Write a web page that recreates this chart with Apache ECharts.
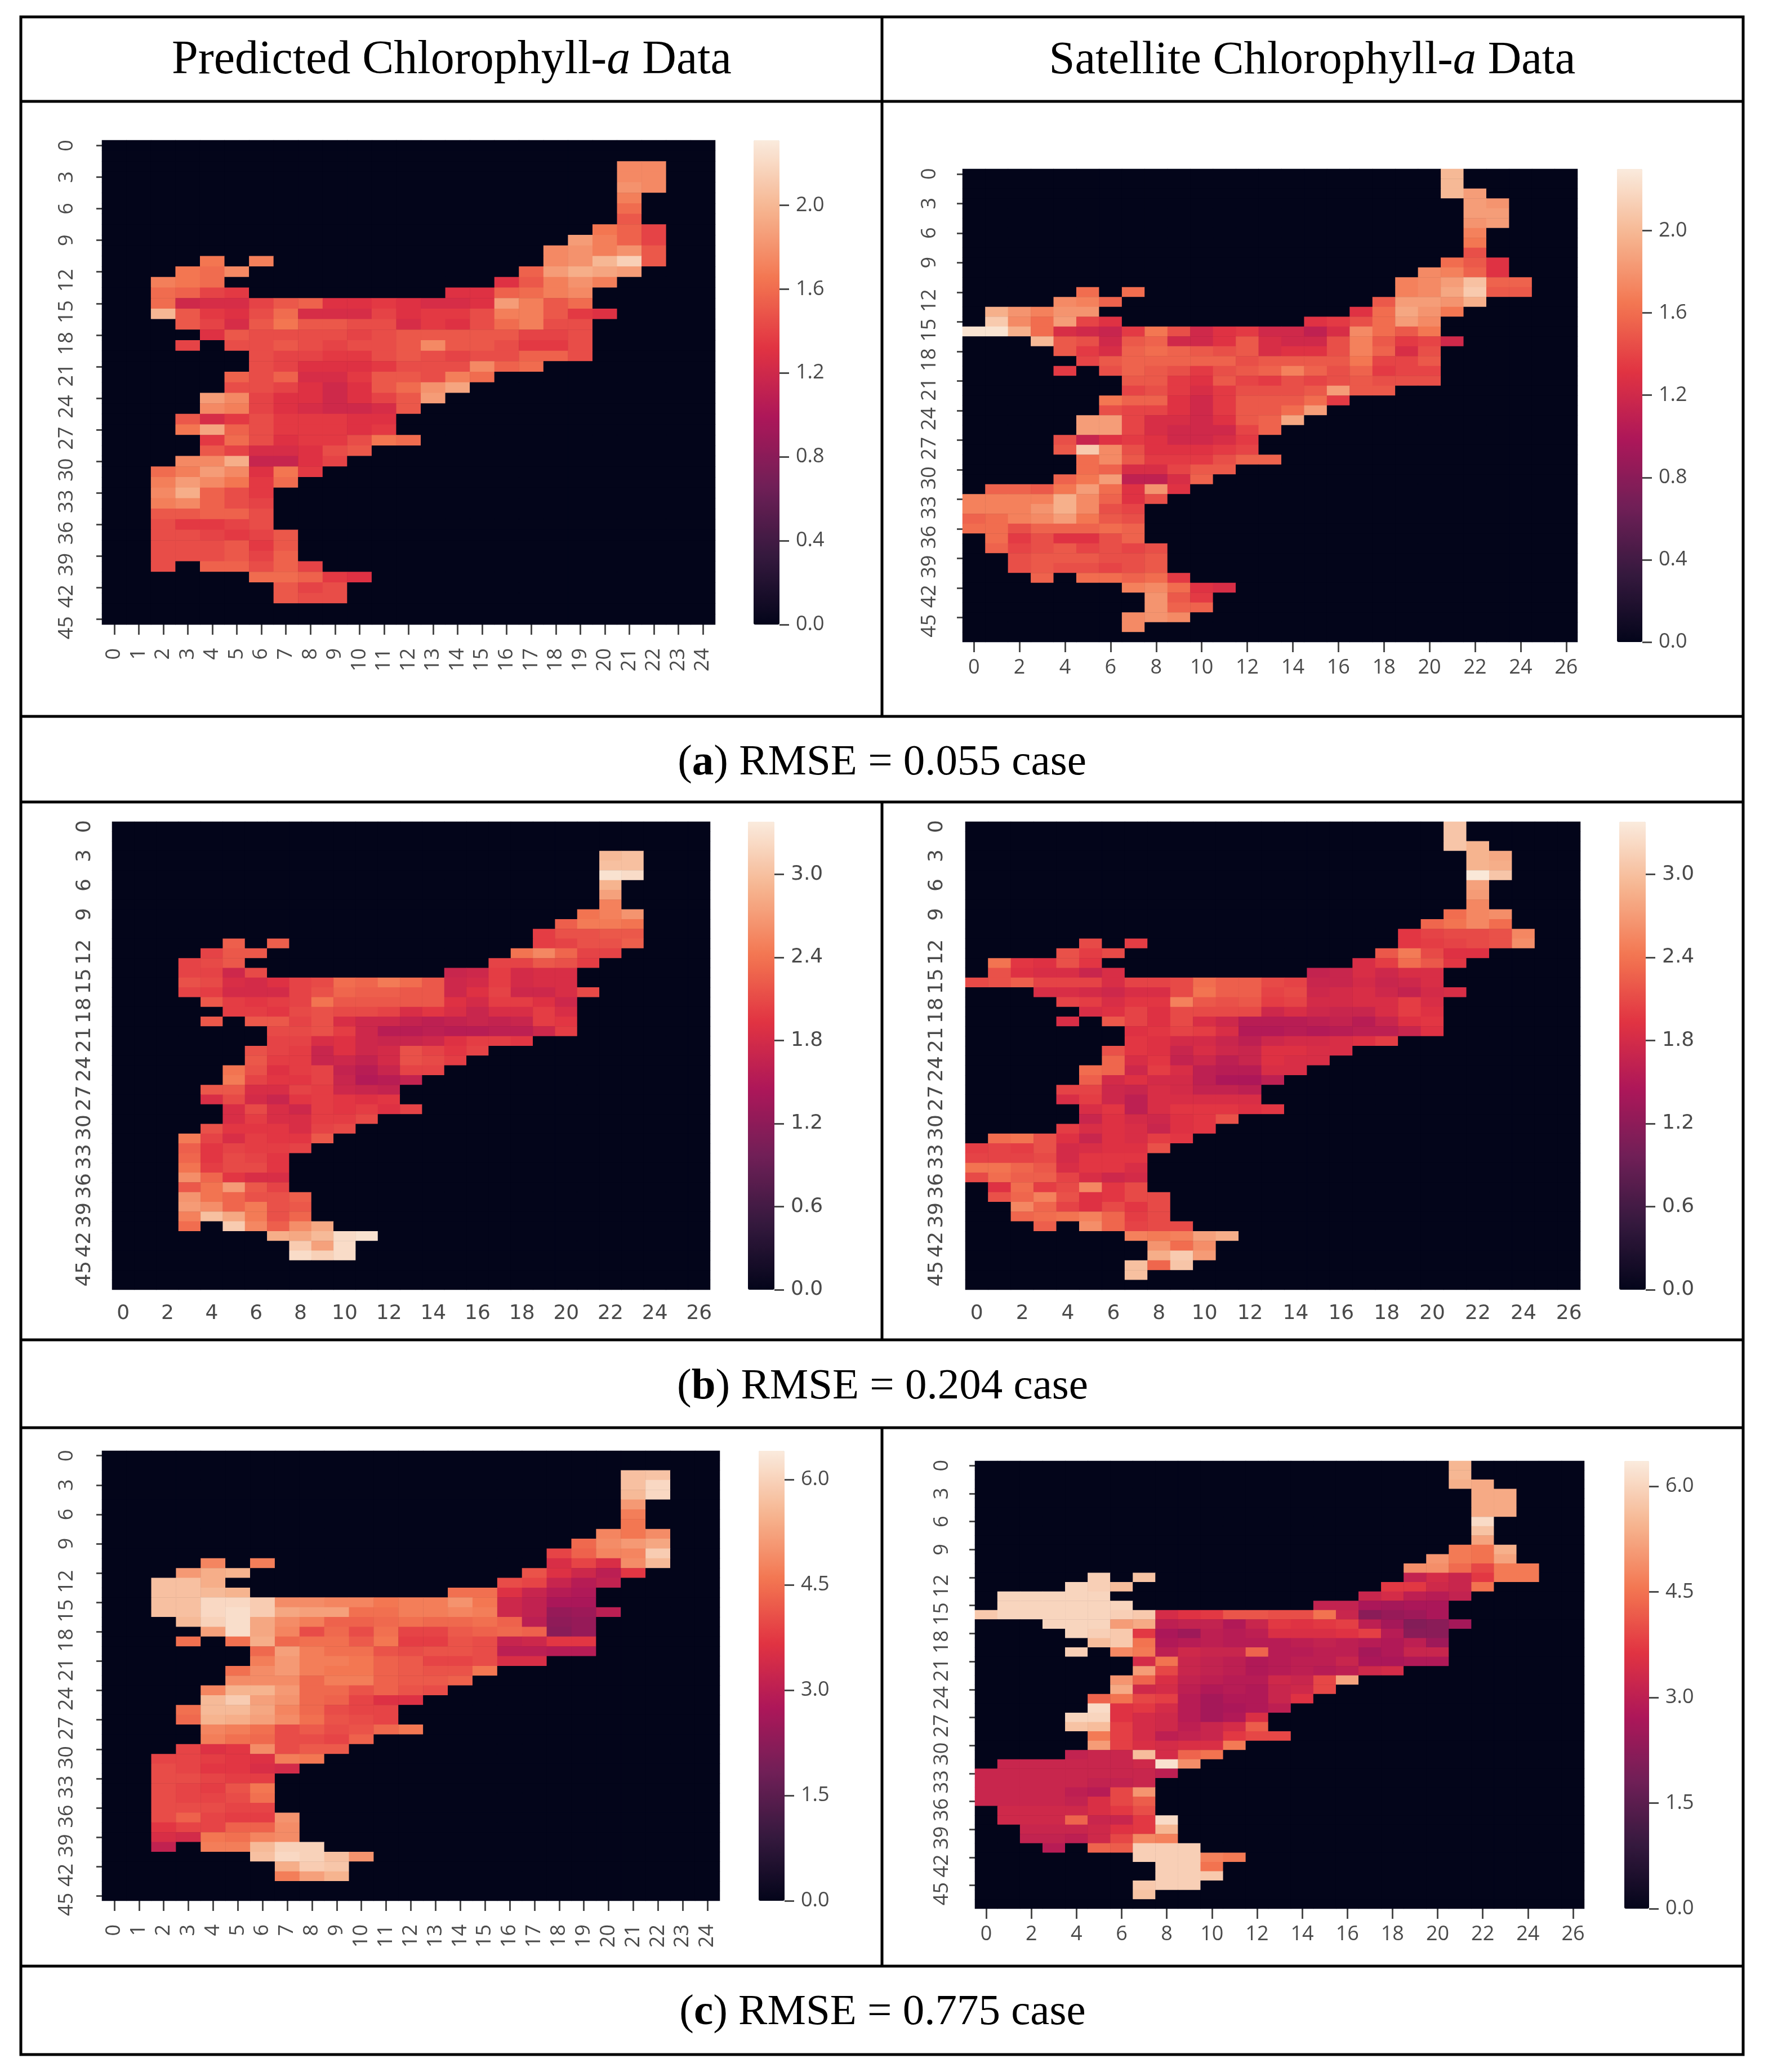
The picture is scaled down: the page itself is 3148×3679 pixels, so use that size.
<!DOCTYPE html>
<html>
<head>
<meta charset="utf-8">
<title>Chlorophyll-a heatmaps</title>
<script src="https://cdn.jsdelivr.net/npm/echarts@6/dist/echarts.min.js"></script>
<style>
  html, body { margin: 0; padding: 0; background: #fff; }
  #chart { width: 3148px; height: 3679px; }
</style>
</head>
<body>
<div id="chart"></div>
<script>
// axis categories
var cols25 = [0,1,2,3,4,5,6,7,8,9,10,11,12,13,14,15,16,17,18,19,20,21,22,23,24];
var cols27 = [0,1,2,3,4,5,6,7,8,9,10,11,12,13,14,15,16,17,18,19,20,21,22,23,24,25,26];
var rows46 = [0,1,2,3,4,5,6,7,8,9,10,11,12,13,14,15,16,17,18,19,20,21,22,23,24,25,26,27,28,29,30,31,32,33,34,35,36,37,38,39,40,41,42,43,44,45];
var rows48 = rows46.concat([46,47]);

// colorbar ticks
var ticksA = [0,0.4,0.8,1.2,1.6,2.0];
var ticksB = [0,0.6,1.2,1.8,2.4,3.0];
var ticksC = [0,1.5,3.0,4.5,6.0];

// rocket palette
var rocket = ['#03051a','#35193e','#701f57','#ad1759','#e13342','#f37651','#f6b48f','#faebdd'];

// each entry: row, first column, then the values going right
var predA = [
[2,21,1.75,1.75],[3,21,1.75,1.75],[4,21,1.8,1.75],[5,21,1.7],[6,21,1.6],[7,21,1.5],
[8,20,1.65,1.55,1.4],[9,19,1.85,1.7,1.55,1.4],[10,18,1.75,1.8,1.7,1.8,1.5],
[11,4,1.65],[11,6,1.7],[11,18,1.75,1.8,2.0,2.15,1.5],
[12,3,1.65,1.6,1.75],[12,17,1.55,1.85,1.95,1.9,1.85],
[13,2,1.7,1.65,1.6],[13,16,1.3,1.5,1.7,1.8,1.7],
[14,2,1.6,1.55,1.4,1.35],[14,14,1.3,1.3,1.55,1.6,1.7,1.75],
[15,2,1.6,1.2,1.25,1.25,1.4,1.5,1.55,1.3,1.3,1.35,1.3,1.25,1.25,1.3,1.85,1.7,1.5,1.6],
[16,2,2.0,1.5,1.35,1.3,1.45,1.6,1.25,1.25,1.25,1.4,1.3,1.35,1.35,1.45,1.7,1.7,1.5,1.35,1.3],
[17,3,1.5,1.4,1.25,1.5,1.65,1.5,1.5,1.45,1.45,1.25,1.35,1.3,1.45,1.6,1.7,1.45,1.45],
[18,4,1.3,1.5,1.45,1.45,1.45,1.45,1.4,1.45,1.5,1.5,1.5,1.5,1.5,1.4,1.4,1.45],
[19,3,1.4],[19,5,1.45,1.45,1.5,1.45,1.4,1.45,1.45,1.5,1.75,1.5,1.5,1.45,1.35,1.35,1.45],
[20,6,1.45,1.4,1.4,1.35,1.35,1.45,1.5,1.45,1.4,1.45,1.45,1.55,1.55,1.45],
[21,6,1.45,1.4,1.3,1.3,1.3,1.35,1.45,1.45,1.45,1.75,1.55,1.6],
[22,5,1.55,1.45,1.55,1.25,1.25,1.35,1.5,1.5,1.45,1.7,1.6],
[23,5,1.45,1.45,1.4,1.3,1.2,1.3,1.5,1.6,1.8,1.9],
[24,4,1.85,1.75,1.4,1.3,1.3,1.2,1.3,1.4,1.5,1.85],
[25,4,1.75,1.7,1.4,1.3,1.25,1.2,1.2,1.25,1.5],
[26,3,1.5,1.25,1.35,1.45,1.35,1.35,1.35,1.3,1.3],
[27,3,1.65,1.9,1.55,1.45,1.35,1.35,1.35,1.3,1.35],
[28,4,1.35,1.6,1.45,1.3,1.35,1.35,1.45,1.65,1.6],
[29,4,1.5,1.4,1.25,1.25,1.3,1.45,1.5],
[30,3,1.75,1.75,1.95,1.15,1.15,1.3,1.4],
[31,2,1.6,1.7,1.85,1.75,1.3,1.65,1.35],
[32,2,1.7,1.85,1.75,1.65,1.35,1.6],
[33,2,1.75,1.95,1.55,1.45,1.35],[34,2,1.7,1.75,1.55,1.45,1.4],[35,2,1.5,1.5,1.55,1.55,1.45],[36,2,1.45,1.35,1.35,1.4,1.45],
[37,2,1.45,1.45,1.4,1.35,1.4,1.5],[38,2,1.45,1.45,1.45,1.5,1.35,1.5],[39,2,1.45,1.45,1.45,1.5,1.4,1.55],
[40,2,1.45],[40,4,1.55,1.55,1.45,1.55,1.4],
[41,6,1.6,1.6,1.55,1.35,1.3],[42,7,1.5,1.4,1.45],[43,7,1.5,1.45,1.45]
];

var satA = [
[0,21,2.0],[1,21,2.0],[2,21,2.0,1.85],[3,22,1.85,1.8],[4,22,1.85,1.85],[5,22,1.8,1.85],[6,22,1.7],[7,22,1.65],[8,22,1.45],
[9,21,1.6,1.5,1.3],[10,20,1.75,1.7,1.55,1.3],[11,19,1.7,1.75,1.85,2.05,1.55,1.55],
[12,5,1.6],[12,7,1.6],[12,19,1.7,1.75,1.9,2.1,1.5,1.5],
[13,4,1.75,1.7,1.55],[13,18,1.5,1.85,1.85,1.8,1.95],
[14,1,1.95,1.8,1.7,1.8,1.8],[14,17,1.3,1.6,1.9,1.8,1.65],
[15,1,2.1,1.75,1.6,1.85,1.4,1.3],[15,15,1.3,1.35,1.45,1.6,1.85,1.75],
[16,0,2.25,2.25,1.95,1.6,1.25,1.2,1.15,1.35,1.65,1.45,1.2,1.3,1.35,1.2,1.2,1.1,1.25,1.75,1.6,1.5,1.65],
[17,3,2.0,1.5,1.45,1.2,1.5,1.55,1.2,1.2,1.3,1.5,1.25,1.2,1.2,1.45,1.7,1.5,1.35,1.4,1.2],
[18,4,1.5,1.35,1.25,1.55,1.6,1.55,1.5,1.45,1.5,1.25,1.3,1.3,1.45,1.7,1.55,1.25,1.45],
[19,5,1.4,1.5,1.55,1.55,1.55,1.55,1.55,1.45,1.5,1.5,1.5,1.5,1.65,1.4,1.4,1.5],
[20,4,1.35],[20,6,1.45,1.55,1.5,1.45,1.35,1.45,1.5,1.55,1.7,1.55,1.45,1.55,1.35,1.4,1.4],
[21,7,1.5,1.5,1.35,1.3,1.5,1.4,1.35,1.45,1.4,1.45,1.5,1.45,1.45,1.45],
[22,7,1.4,1.45,1.35,1.25,1.35,1.45,1.45,1.45,1.5,1.85,1.5,1.5],
[23,6,1.65,1.55,1.55,1.3,1.2,1.35,1.5,1.5,1.5,1.6,1.35],
[24,6,1.45,1.4,1.4,1.3,1.2,1.35,1.5,1.5,1.6,1.85],
[25,5,1.85,1.85,1.4,1.25,1.25,1.2,1.3,1.5,1.55,1.9],
[26,5,1.85,1.85,1.4,1.25,1.2,1.2,1.2,1.4,1.55],
[27,4,1.45,1.15,1.3,1.35,1.3,1.2,1.2,1.25,1.35],
[28,4,1.5,2.1,1.75,1.45,1.3,1.3,1.3,1.35,1.4],
[29,5,1.6,1.75,1.5,1.35,1.35,1.35,1.45,1.55,1.55],
[30,5,1.6,1.55,1.25,1.25,1.4,1.5,1.5],
[31,4,1.55,1.65,1.85,1.1,1.1,1.25,1.55],
[32,1,1.55,1.55,1.5,1.65,1.85,1.6,1.3,1.8,1.3],
[33,0,1.7,1.7,1.7,1.7,1.95,1.75,1.55,1.3,1.45],
[34,0,1.7,1.7,1.7,1.8,1.95,1.75,1.45,1.4],
[35,0,1.55,1.6,1.7,1.75,1.85,1.65,1.5,1.45],
[36,0,1.6,1.6,1.45,1.55,1.55,1.55,1.6,1.55],
[37,1,1.6,1.35,1.45,1.3,1.3,1.45,1.55],
[38,1,1.55,1.4,1.45,1.5,1.4,1.45,1.4,1.45],
[39,2,1.45,1.5,1.5,1.5,1.45,1.45,1.5],
[40,2,1.45,1.5,1.45,1.45,1.4,1.45,1.5],
[41,3,1.55],[41,5,1.6,1.6,1.55,1.6,1.35],
[42,7,1.7,1.75,1.6,1.3,1.25],[43,8,1.8,1.5,1.35],[44,8,1.8,1.55,1.55],[45,7,1.75,1.8,1.75],[46,7,1.75]
];

var predB = [
[3,22,2.95,3.0],[4,22,3.0,3.0],[5,22,3.3,3.25],[6,22,2.9],[7,22,2.75],[8,22,2.5],
[9,21,2.4,2.5,2.65],[10,20,2.25,2.45,2.45,2.4],[11,19,2.0,2.15,2.15,2.2,2.2],
[12,5,2.25],[12,7,2.25],[12,19,2.0,2.05,2.15,2.15,2.25],
[13,4,2.05,2.2,2.2],[13,18,2.4,2.55,2.3,2.05,2.05],
[14,3,2.05,2.1,2.2],[14,17,2.05,2.05,2.2,2.15,2.0],
[15,3,2.05,2.05,1.75,2.1],[15,15,1.7,1.75,2.0,1.8,1.85,1.85],
[16,3,2.15,2.1,1.85,1.8,1.9,2.05,2.1,2.35,2.3,2.45,2.35,2.2,1.75,1.8,2.0,1.8,1.85,1.85],
[17,3,2.05,2.0,1.8,1.8,1.8,2.05,2.15,2.3,2.25,2.25,2.2,2.2,1.75,1.9,2.05,1.75,1.75,1.85,2.1],
[18,4,2.2,2.0,1.95,2.0,2.05,2.4,2.2,2.2,2.2,2.2,2.2,1.9,1.8,2.0,2.0,1.9,1.75],
[19,5,2.0,2.0,1.95,2.1,2.15,2.1,2.1,2.05,1.85,1.95,1.85,1.7,1.85,1.85,2.0,1.85],
[20,4,2.2],[20,6,2.2,2.2,2.05,2.15,1.85,1.75,1.75,1.65,1.6,1.65,1.7,1.65,1.7,2.0,1.95],
[21,7,2.1,2.1,2.15,2.0,1.75,1.55,1.55,1.6,1.55,1.55,1.6,1.6,1.75,2.0],
[22,7,2.05,2.05,1.85,1.9,1.75,1.7,1.7,1.75,1.9,2.0,2.0,1.95],
[23,6,2.15,2.05,2.0,1.7,1.9,1.75,1.8,2.15,2.05,1.95,2.05],
[24,6,2.2,2.0,2.0,1.7,1.75,1.65,1.8,2.15,2.1,2.0],
[25,5,2.4,2.15,1.9,2.0,2.05,1.65,1.55,1.7,2.05,2.05],
[26,5,2.45,2.05,1.95,1.95,2.05,1.7,1.5,1.55,1.65],
[27,4,2.2,2.2,1.85,1.85,2.05,2.0,1.75,1.7,1.65],
[28,4,1.85,2.1,1.8,1.7,1.95,2.0,1.95,1.9,1.95],
[29,5,1.85,2.1,1.85,1.75,2.0,1.95,2.0,1.9,2.05],
[30,5,1.85,2.0,1.85,1.85,2.0,2.0,2.1],
[31,4,2.15,1.95,1.95,1.95,1.85,2.05,2.1],
[32,3,2.45,2.05,1.85,2.0,1.95,1.95,2.2],
[33,3,2.25,1.95,2.05,2.0,2.0,2.05],
[34,3,2.3,1.95,2.1,2.05,1.95],[35,3,2.4,2.0,2.1,2.1,1.95],[36,3,2.6,2.3,1.95,1.85,1.85],[37,3,2.2,2.4,2.7,2.2,2.05],
[38,3,2.65,2.4,2.3,2.15,2.15,2.25],[39,3,2.7,2.6,2.3,2.45,2.15,2.2],[40,3,2.5,3.0,2.8,2.45,2.15,2.3],
[41,3,2.35],[41,5,3.1,2.55,2.25,2.6,2.8],
[42,7,2.85,2.8,2.95,3.25,3.3],[43,8,3.1,2.75,3.25],[44,8,3.25,3.15,3.25]
];

var satB = [
[0,21,3.05],[1,21,3.05],[2,21,3.05,2.9],[3,22,2.9,2.8],[4,22,2.9,2.85],[5,22,3.35,3.05],[6,22,2.75],[7,22,2.7],[8,22,2.55],
[9,21,2.35,2.55,2.6],[10,20,2.3,2.4,2.55,2.35],[11,19,1.95,2.05,2.1,2.1,2.15,2.55],
[12,5,2.1],[12,7,2.0],[12,19,1.95,2.0,2.05,2.1,2.15,2.6],
[13,4,2.15,2.0,2.1],[13,18,2.2,2.45,2.1,1.9,1.9],
[14,1,2.4,1.95,1.9,2.15,1.95],[14,17,1.85,2.0,2.35,2.2,1.95],
[15,1,2.15,1.9,1.85,1.85,1.7,1.85],[15,15,1.65,1.7,1.85,1.75,1.85,1.85],
[16,0,2.1,2.15,2.25,2.05,2.05,2.05,1.85,2.05,2.05,2.1,2.35,2.25,2.25,2.1,2.05,1.7,1.7,1.8,1.7,1.75,1.85],
[17,3,1.85,1.85,1.8,1.75,1.85,1.85,2.1,2.4,2.25,2.25,2.05,2.1,1.75,1.8,1.85,1.75,1.65,1.8,1.85],
[18,4,2.05,2.0,1.85,1.95,1.95,2.5,2.2,2.15,2.2,2.0,2.05,1.8,1.8,1.85,1.85,2.0,1.85],
[19,5,1.85,1.9,2.05,1.9,2.1,2.1,2.1,2.1,1.75,1.85,1.75,1.7,1.7,1.85,2.0,1.9],
[20,4,1.85],[20,6,2.2,2.05,1.9,2.1,1.85,1.75,1.55,1.55,1.55,1.6,1.65,1.55,1.7,1.9,1.95],
[21,7,1.9,1.95,2.05,2.0,1.85,1.5,1.5,1.55,1.5,1.55,1.6,1.6,1.7,1.9],
[22,7,1.95,1.9,1.8,1.8,1.7,1.6,1.75,1.8,1.8,1.85,1.9,2.0],
[23,6,2.15,1.95,1.9,1.7,1.85,1.75,1.7,1.9,1.9,1.85,1.85],
[24,6,2.3,1.85,1.95,1.65,1.75,1.6,1.7,1.9,1.85,1.85],
[25,5,2.35,2.3,1.75,2.0,1.85,1.6,1.55,1.55,1.85,1.85],
[26,5,2.25,1.8,1.9,1.8,1.8,1.6,1.45,1.45,1.6],
[27,4,2.05,2.05,1.75,1.7,1.85,1.8,1.65,1.65,1.6],
[28,4,1.85,2.0,1.75,1.6,1.85,1.85,1.85,1.85,1.85],
[29,5,1.85,1.95,1.6,1.85,1.95,1.95,1.95,1.9,1.95],
[30,5,1.7,1.9,1.8,1.75,1.9,1.95,2.15],
[31,4,2.0,1.85,1.9,1.85,1.7,1.9,1.95],
[32,1,2.35,2.4,2.15,1.9,1.7,1.9,1.85,2.0,1.95],
[33,0,2.0,2.05,2.0,2.15,1.8,1.85,1.9,1.9,2.15],
[34,0,2.05,2.05,2.05,2.1,1.8,1.95,1.95,1.95],
[35,0,2.4,2.4,2.3,2.2,1.85,1.95,1.95,1.85],
[36,0,2.1,2.35,2.25,2.25,2.05,1.85,1.75,1.8],
[37,1,1.9,2.35,2.0,2.1,2.55,1.95,2.1],
[38,1,2.15,2.3,2.5,2.15,1.9,1.95,2.1,2.1],
[39,2,2.55,2.3,2.05,1.9,2.1,1.95,2.1],
[40,2,2.3,2.35,2.4,2.5,2.3,2.0,2.1],
[41,3,2.25],[41,5,2.6,2.3,2.05,2.1,2.1],
[42,7,2.5,2.45,2.5,2.75,2.85],[43,8,2.65,2.35,2.6],[44,8,2.85,3.1,2.7],[45,7,3.0,2.3,3.05],[46,7,3.0]
];

var predC = [
[2,21,5.7,5.75],[3,21,5.7,6.1],[4,21,5.6,6.1],[5,21,5.1],[6,21,4.7],[7,21,4.6],
[8,20,4.8,4.6,4.9],[9,19,4.4,4.9,5.1,5.3],[10,18,3.9,4.3,4.8,4.8,5.9],
[11,4,4.8],[11,6,4.7],[11,18,3.5,3.9,3.5,4.9,5.6],
[12,3,5.1,5.4,5.5],[12,17,4.1,3.6,3.3,3.0,3.7],
[13,2,5.7,5.7,5.4],[13,16,4.0,3.9,3.2,2.9,3.1],
[14,2,5.7,5.7,5.6,5.5],[14,14,4.5,4.5,3.6,3.2,2.9,2.8],
[15,2,5.7,5.7,6.1,6.1,5.9,4.9,4.9,4.8,4.8,4.6,4.7,4.7,5.0,4.6,3.3,3.1,2.7,2.7],
[16,2,5.7,5.7,6.1,6.2,5.9,5.3,5.2,5.2,4.5,4.5,4.7,4.7,4.8,4.7,3.3,3.1,2.4,2.5,3.0],
[17,3,5.6,6.0,6.2,5.3,4.9,4.7,4.3,4.3,4.4,4.5,4.4,4.4,4.5,4.3,3.0,2.3,2.4],
[18,4,5.2,6.2,5.3,4.8,4.0,4.4,4.0,4.5,3.9,3.9,4.2,4.3,4.4,4.3,2.2,2.4],
[19,3,4.5],[19,5,4.5,5.4,4.4,4.5,4.5,4.2,4.6,3.8,3.8,4.1,4.0,3.2,3.3,3.7,3.7],
[20,6,4.4,5.2,4.7,4.5,4.5,4.1,4.0,4.1,4.1,4.0,3.0,3.0,2.9,2.9],
[21,6,4.7,5.1,4.7,4.7,4.6,4.3,4.2,3.9,3.9,4.0,3.5,3.5],
[22,5,4.5,4.9,5.1,4.7,4.6,4.6,4.3,4.2,4.1,4.1,4.6],
[23,5,4.9,4.9,4.9,4.4,4.7,4.7,4.3,4.2,4.2,4.3],
[24,4,4.8,5.5,5.5,5.1,4.4,4.4,4.1,4.3,4.1,4.0],
[25,4,5.6,5.9,5.2,5.0,4.4,4.3,3.9,3.6,3.6],
[26,3,4.5,5.6,5.6,5.3,4.8,4.4,4.0,3.9,3.9],
[27,3,4.4,5.5,5.4,5.2,4.9,4.5,4.1,4.0,3.9],
[28,4,4.8,4.7,4.5,4.0,4.2,4.0,4.1,4.4,4.6],
[29,4,4.7,4.5,4.4,4.0,4.0,3.9,4.3],
[30,3,3.9,3.6,3.7,4.9,4.0,4.2,4.2],
[31,2,3.9,3.9,3.8,3.7,3.6,4.7,4.6],
[32,2,4.0,3.9,3.7,3.7,3.5,3.4],
[33,2,4.0,4.0,3.9,3.8,3.8],[34,2,4.0,3.9,3.8,4.1,4.6],[35,2,4.0,3.9,3.9,4.0,4.5],[36,2,4.0,4.0,4.0,3.9,3.9],
[37,2,4.0,4.3,3.9,3.8,3.8,5.0],[38,2,3.7,3.9,3.9,4.3,4.3,4.9],[39,2,3.5,3.4,4.6,4.5,4.8,4.9],
[40,2,3.1],[40,4,4.7,4.7,5.6,6.0,6.0],
[41,6,5.7,6.1,6.0,5.7,5.0],[42,7,5.4,5.9,5.8],[43,7,4.7,5.2,5.5]
];

var satC = [
[0,21,5.5],[1,21,5.5],[2,21,5.4,5.3],[3,22,5.3,5.3],[4,22,5.3,5.3],[5,22,5.3,5.3],[6,22,6.1],[7,22,5.7],[8,22,5.2],
[9,21,4.6,4.5,5.4],[10,20,5.0,4.6,4.5,5.2],[11,19,4.9,4.9,4.4,3.9,4.6,4.6],
[12,5,5.9],[12,7,5.7],[12,19,3.1,3.4,3.2,3.7,4.6,4.6],
[13,4,6.0,5.9,5.6],[13,18,3.7,3.7,3.3,3.2,4.5],
[14,1,6.0,6.0,6.0,6.0,6.0],[14,17,3.2,3.4,3.0,2.9,3.1],
[15,1,6.0,6.0,6.0,6.0,6.0,6.0],[15,15,3.1,3.1,2.7,2.6,2.7,2.7],
[16,0,5.8,6.0,6.0,6.0,6.0,6.0,5.9,5.8,3.4,3.6,3.7,4.1,4.1,4.0,4.0,4.5,3.2,2.2,2.4,2.5,2.7],
[17,3,6.0,6.0,6.0,5.1,5.3,3.0,3.1,3.1,2.8,3.2,3.7,3.6,3.7,3.8,3.0,2.6,2.1,2.2,2.6],
[18,4,6.0,5.9,5.8,3.7,2.7,2.5,3.0,2.9,3.0,3.5,3.5,3.5,3.6,3.8,2.9,2.2,2.2],
[19,5,5.6,5.8,4.5,2.8,2.9,3.0,2.9,2.9,2.9,3.0,3.1,3.0,2.9,2.8,3.0,2.5],
[20,4,5.9],[20,6,4.8,4.6,3.0,3.3,3.2,3.2,4.3,2.9,2.9,3.0,3.0,2.6,2.8,3.2,3.2],
[21,7,3.4,4.5,3.2,3.1,3.0,2.8,2.9,3.0,3.0,3.2,2.7,2.7,2.8,2.8],
[22,7,5.1,3.9,3.2,3.1,3.0,2.8,2.9,3.0,2.9,3.0,3.3,3.4],
[23,6,5.0,4.3,3.5,3.1,3.0,2.9,2.9,3.3,3.2,3.9,5.2],
[24,6,5.3,3.3,3.4,3.0,2.8,2.9,2.8,3.2,3.3,3.9],
[25,5,4.3,4.5,3.9,3.8,2.9,2.6,2.8,2.8,3.2,3.6],
[26,5,6.1,3.6,3.7,3.4,2.9,2.6,2.7,2.8,3.0],
[27,4,6.0,6.0,3.6,3.4,3.3,2.9,2.6,2.8,3.5],
[28,4,5.7,5.6,3.8,3.4,3.3,3.0,3.2,3.4,4.2],
[29,5,4.6,3.8,3.4,3.0,3.1,3.2,3.7,3.9,3.9],
[30,5,5.1,3.8,3.5,3.4,3.5,3.5,4.6],
[31,4,3.1,3.2,3.2,5.6,3.4,4.3,4.5],
[32,1,3.2,3.2,3.2,3.2,3.2,3.2,3.3,6.2,4.9],
[33,0,3.2,3.2,3.2,3.2,3.2,3.2,3.2,3.2,3.0],
[34,0,3.2,3.2,3.2,3.2,3.2,3.1,3.1,3.2],
[35,0,3.2,3.2,3.2,3.2,3.0,2.9,3.9,5.0],
[36,0,3.2,3.2,3.2,3.2,3.1,3.5,3.9,4.2],
[37,1,3.3,3.3,3.3,3.3,3.5,3.7,4.0],
[38,1,3.3,3.3,3.3,4.3,3.2,3.2,3.7,6.1],
[39,2,3.2,3.2,3.2,3.3,3.6,3.7,5.5],
[40,2,3.1,3.1,3.0,3.3,3.9,4.8,4.7],
[41,3,2.9],[41,5,4.3,4.2,5.9,5.9,5.9],
[42,7,5.9,5.9,5.9,4.7,4.6],[43,8,5.9,5.9,4.5],[44,8,5.9,5.9,5.8],[45,7,5.8,5.9,5.9],[46,7,5.7]
];

// layout of the six panels, all in pixels of the picture
var panels = [
  {rows: predA, cols: cols25, ys: rows46, max: 2.31, ticks: ticksA, x0: 181,  x1: 1270, y0: 249,  y1: 1109, b0: 1338, b1: 1384, font: 'Open Sans', yMargin: 44, xMargin: 42, xRot: 90, xEvery: 0, tick: true},
  {rows: satA,  cols: cols27, ys: rows48, max: 2.30, ticks: ticksA, x0: 1709, x1: 2801, y0: 300,  y1: 1140, b0: 2871, b1: 2916, font: 'Open Sans', yMargin: 40, xMargin: 28, xRot: 0,  xEvery: 1, tick: true},
  {rows: predB, cols: cols27, ys: rows48, max: 3.38, ticks: ticksB, x0: 199,  x1: 1261, y0: 1459, y1: 2290, b0: 1328, b1: 1375, font: 'DejaVu Sans', yMargin: 30, xMargin: 25, xRot: 0, xEvery: 1, tick: false},
  {rows: satB,  cols: cols27, ys: rows48, max: 3.38, ticks: ticksB, x0: 1714, x1: 2806, y0: 1459, y1: 2290, b0: 2875, b1: 2922, font: 'DejaVu Sans', yMargin: 32, xMargin: 25, xRot: 0, xEvery: 1, tick: false},
  {rows: predC, cols: cols25, ys: rows46, max: 6.41, ticks: ticksC, x0: 181,  x1: 1278, y0: 2576, y1: 3375, b0: 1347, b1: 1393, font: 'Open Sans', yMargin: 44, xMargin: 42, xRot: 90, xEvery: 0, tick: true},
  {rows: satC,  cols: cols27, ys: rows48, max: 6.36, ticks: ticksC, x0: 1731, x1: 2813, y0: 2594, y1: 3389, b0: 2884, b1: 2928, font: 'Open Sans', yMargin: 40, xMargin: 28, xRot: 0, xEvery: 1, tick: true}
];

var tickColor = '#4a4a4a';
var serif = 'Liberation Serif';

function to_cells(rows, cols, ys){
  var grid_vals = ys.map(function(){ return cols.map(function(){ return 0 }) })
  rows.forEach(function(r){
    for (var i = 2; i < r.length; i++) grid_vals[r[0]][r[1] + i - 2] = r[i]
  })
  var cells = []
  grid_vals.forEach(function(line, y){
    line.forEach(function(v, x){ cells.push([x, y, v]) })
  })
  return cells
}

var grids = [], xAxes = [], yAxes = [], series = [], visualMaps = []

panels.forEach(function(p, i){
  // heatmap
  grids.push({left: p.x0, top: p.y0, width: p.x1 - p.x0, height: p.y1 - p.y0, show: true, backgroundColor: rocket[0], borderWidth: 0})
  xAxes.push({
    type: 'category', gridIndex: grids.length - 1, data: p.cols, position: 'bottom',
    axisLine: {show: false},
    axisTick: {show: p.tick, alignWithLabel: true, interval: p.xEvery, length: 18, lineStyle: {color: tickColor, width: 3}},
    axisLabel: {interval: p.xEvery, rotate: p.xRot, margin: p.xMargin, hideOverlap: false, color: tickColor, fontFamily: p.font, fontSize: 36},
    splitLine: {show: false}
  })
  yAxes.push({
    type: 'category', gridIndex: grids.length - 1, data: p.ys, inverse: true,
    axisLine: {show: false},
    axisTick: {show: p.tick, alignWithLabel: true, interval: 2, length: 10, lineStyle: {color: tickColor, width: 3}},
    axisLabel: {
      interval: 2, rotate: 90, margin: p.yMargin, hideOverlap: false,
      color: tickColor, fontFamily: p.font, fontSize: 36,
      // two digit labels hang below their tick in the source
      formatter: function(v){ return v.length > 1 ? '{d|' + v + '}' : '{s|' + v + '}' },
      rich: {
        d: {color: tickColor, fontFamily: p.font, fontSize: 36, padding: [0, 30, 0, 0]},
        s: {color: tickColor, fontFamily: p.font, fontSize: 36}
      }
    },
    splitLine: {show: false}
  })
  series.push({
    type: 'heatmap', name: 'panel' + i, coordinateSystem: 'cartesian2d',
    xAxisIndex: xAxes.length - 1, yAxisIndex: yAxes.length - 1,
    data: to_cells(p.rows, p.cols, p.ys), progressive: 0, animation: false,
    emphasis: {disabled: true}
  })
  visualMaps.push({
    type: 'continuous', seriesIndex: i, dimension: 2, min: 0, max: p.max,
    calculable: false, realtime: false, hoverLink: false, padding: 0, text: null, showLabel: false,
    left: p.b0, top: p.y0, itemWidth: p.b1 - p.b0, itemHeight: p.y1 - p.y0,
    inRange: {color: rocket}, textStyle: {color: 'transparent', fontSize: 1}
  })
  // colorbar ticks
  grids.push({left: p.b0, top: p.y0, width: p.b1 - p.b0, height: p.y1 - p.y0, show: false})
  xAxes.push({type: 'value', gridIndex: grids.length - 1, show: false, min: 0, max: 1})
  yAxes.push({
    type: 'value', gridIndex: grids.length - 1, position: 'right', min: 0, max: p.max,
    axisLine: {show: false, onZero: false}, splitLine: {show: false},
    axisTick: {show: true, length: 17, customValues: p.ticks, lineStyle: {color: tickColor, width: 3}},
    axisLabel: {
      show: true, margin: 29, customValues: p.ticks, color: tickColor, fontFamily: p.font, fontSize: 36,
      formatter: function(v){ return v.toFixed(1) }
    }
  })
})

function rich_title(text, cx, top, size){
  var base = {fontFamily: serif, fontSize: size, color: '#000', lineHeight: 100, fontWeight: 'normal'}
  return {
    text: text, left: cx, top: top, textAlign: 'center', padding: 0,
    textStyle: {fontFamily: serif, fontSize: size, color: '#000', fontWeight: 'normal', rich: {
      n: base,
      i: Object.assign({}, base, {fontStyle: 'italic'}),
      b: Object.assign({}, base, {fontWeight: 'bold'})
    }}
  }
}

var titles = [
  rich_title('{n|Predicted Chlorophyll-}{i|a}{n| Data}', 802, 58, 84),
  rich_title('{n|Satellite Chlorophyll-}{i|a}{n| Data}', 2330, 58, 82.5),
  rich_title('{n|(}{b|a}{n|) RMSE = 0.055 case}', 1566, 1305, 77),
  rich_title('{n|(}{b|b}{n|) RMSE = 0.204 case}', 1567, 2413, 77),
  rich_title('{n|(}{b|c}{n|) RMSE = 0.775 case}', 1567, 3524, 77)
]

// table frame
var hLines = [180, 1272, 1424, 2379, 2535, 3491]
var vSpans = [[30, 1272], [1424, 2379], [2535, 3491]]
var frame = [{type: 'rect', shape: {x: 37, y: 30, width: 3058, height: 3618}, style: {fill: 'none', stroke: '#000', lineWidth: 5}}]
hLines.forEach(function(y){
  frame.push({type: 'line', shape: {x1: 37, y1: y, x2: 3095, y2: y}, style: {stroke: '#000', lineWidth: 5}})
})
vSpans.forEach(function(s){
  frame.push({type: 'line', shape: {x1: 1566, y1: s[0], x2: 1566, y2: s[1]}, style: {stroke: '#000', lineWidth: 5}})
})

var chart_div = echarts.init(document.getElementById('chart'), null, {renderer: 'canvas'})
chart_div.setOption({
  backgroundColor: '#fff',
  animation: false,
  title: titles,
  grid: grids,
  xAxis: xAxes,
  yAxis: yAxes,
  visualMap: visualMaps,
  series: series,
  graphic: {elements: frame}
})
</script>
</body>
</html>
